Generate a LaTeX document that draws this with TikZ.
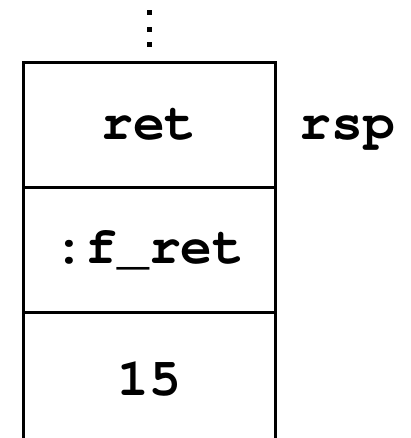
\documentclass[tikz,border=0pt]{standalone}
\usepackage[T1]{fontenc}
\usepackage{courier}
\usepackage{tikz}
\usetikzlibrary{positioning}

\begin{document}
\begin{tikzpicture}[x=1pt,y=1pt]
  \tikzstyle{cell}=[rectangle, draw, line width=3pt, minimum width=252pt,
minimum height=125pt, inner sep=0pt, font=\fontsize{53}{60}\selectfont\ttfamily\bfseries]
  \tikzstyle{reg}=[inner sep=0pt, font=\fontsize{53}{60}\selectfont\ttfamily\bfseries]
  \useasboundingbox (0,0) rectangle (410,438);
  \node[cell] (C_1) at (149,312.5) {ret};
  \node[cell, below=-3pt of C_1] (C_2) {:f\_ret};
  \node[cell, below=-3pt of C_2, minimum height=132pt] (C_3) {15};
  \node[reg, anchor=base west] (rsp) at ([xshift=23pt]C_1.base east) {rsp};
  \foreach \y in {14.5,29.5,46.5}
    \fill ([xshift=-2pt,yshift=\y pt]C_1.north) rectangle ++(5,5);
\end{tikzpicture}
\end{document}
